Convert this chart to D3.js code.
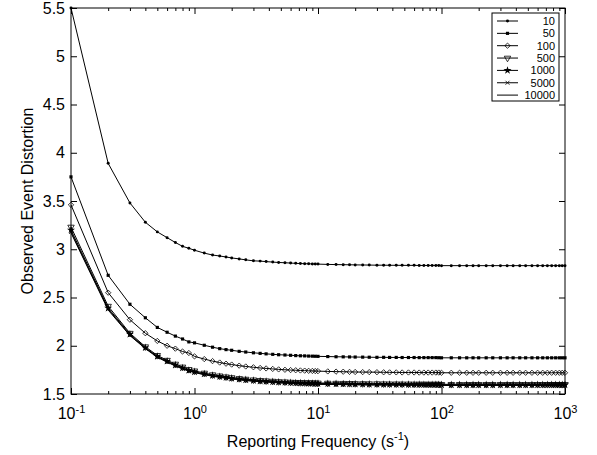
<!DOCTYPE html>
<html>
<head>
<meta charset="utf-8">
<script src="https://cdn.jsdelivr.net/npm/d3@7"></script>
<style>
    body { margin: 0; background: #fff; }
    svg { display: block; font-family: "Liberation Sans", Arial, sans-serif; }
</style>
</head>
<body>
<svg id="chart" width="597" height="455"></svg>
<script>
// sampled reporting frequencies (s^-1)
const freqs = [
    0.1, 0.2, 0.3, 0.4, 0.5, 0.6, 0.7, 0.8, 0.9,
    1, 1.2, 1.4, 1.6, 1.8, 2, 2.3, 2.6, 3, 3.4, 3.8, 4.3, 4.8, 5.4, 6, 6.6, 7.2, 7.8, 8.4, 9, 9.5,
    10, 12, 14, 16, 18, 20, 23, 26, 30, 34, 38, 43, 48, 54, 60, 66, 72, 78, 84, 90, 95,
    100, 120, 140, 160, 180, 200, 230, 260, 300, 340, 380, 430, 480, 540, 600, 660, 720, 780, 840, 900, 950,
    1000
];

const seriesNames = ["10", "50", "100", "500", "1000", "5000", "10000"];

const y10 = [
    5.50, 3.89, 3.48, 3.28, 3.18, 3.12, 3.07, 3.03, 3.01,
    2.99, 2.96, 2.94, 2.93, 2.92, 2.91, 2.90, 2.89, 2.88, 2.877, 2.872, 2.867, 2.863, 2.86, 2.857, 2.854, 2.852, 2.85, 2.849, 2.848, 2.847,
    2.846, 2.843, 2.841, 2.84, 2.839, 2.838, 2.837, 2.836, 2.835, 2.835, 2.834, 2.834, 2.833, 2.833, 2.833, 2.832, 2.832, 2.832, 2.832, 2.832, 2.832,
    2.83, 2.83, 2.83, 2.83, 2.83, 2.83, 2.83, 2.83, 2.83, 2.83, 2.83, 2.83, 2.83, 2.83, 2.83, 2.83, 2.83, 2.83, 2.83, 2.83, 2.83,
    2.83
];
const y50 = [
    3.75, 2.73, 2.43, 2.29, 2.19, 2.14, 2.10, 2.07, 2.04,
    2.03, 2.005, 1.985, 1.97, 1.96, 1.953, 1.942, 1.935, 1.927, 1.921, 1.916, 1.911, 1.907, 1.904, 1.901, 1.898, 1.896, 1.895, 1.893, 1.892, 1.891,
    1.89, 1.888, 1.886, 1.885, 1.884, 1.883, 1.882, 1.881, 1.88, 1.88, 1.879, 1.879, 1.878, 1.878, 1.878, 1.877, 1.877, 1.877, 1.877, 1.877, 1.876,
    1.875, 1.875, 1.875, 1.875, 1.875, 1.875, 1.875, 1.875, 1.875, 1.875, 1.875, 1.875, 1.875, 1.875, 1.875, 1.875, 1.875, 1.875, 1.875, 1.875, 1.875,
    1.875
];
const y100 = [
    3.46, 2.55, 2.27, 2.13, 2.05, 2.00, 1.97, 1.94, 1.925,
    1.89, 1.862, 1.841, 1.826, 1.814, 1.805, 1.794, 1.785, 1.777, 1.77, 1.765, 1.76, 1.755, 1.751, 1.748, 1.746, 1.744, 1.742, 1.74, 1.739, 1.738,
    1.737, 1.734, 1.732, 1.731, 1.729, 1.728, 1.727, 1.727, 1.726, 1.725, 1.724, 1.724, 1.723, 1.723, 1.723, 1.722, 1.722, 1.722, 1.722, 1.722, 1.722,
    1.72, 1.72, 1.72, 1.72, 1.72, 1.72, 1.72, 1.72, 1.72, 1.72, 1.72, 1.72, 1.72, 1.72, 1.72, 1.72, 1.72, 1.72, 1.72, 1.72, 1.72,
    1.72
];
const y500 = [
    3.23, 2.41, 2.13, 1.99, 1.90, 1.85, 1.81, 1.78, 1.755,
    1.74, 1.717, 1.70, 1.688, 1.678, 1.67, 1.661, 1.654, 1.647, 1.641, 1.637, 1.633, 1.629, 1.626, 1.623, 1.621, 1.619, 1.618, 1.617, 1.616, 1.615,
    1.614, 1.613, 1.612, 1.611, 1.61, 1.609, 1.608, 1.607, 1.607, 1.606, 1.605, 1.605, 1.604, 1.604, 1.603, 1.603, 1.603, 1.602, 1.602, 1.602, 1.602,
    1.60, 1.60, 1.60, 1.60, 1.60, 1.60, 1.60, 1.60, 1.60, 1.60, 1.60, 1.60, 1.60, 1.60, 1.60, 1.60, 1.60, 1.60, 1.60, 1.60, 1.60,
    1.60
];
const y1000 = [
    3.20, 2.39, 2.12, 1.98, 1.89, 1.84, 1.80, 1.77, 1.745,
    1.73, 1.708, 1.692, 1.68, 1.671, 1.663, 1.654, 1.647, 1.64, 1.635, 1.631, 1.627, 1.623, 1.62, 1.617, 1.615, 1.613, 1.612, 1.611, 1.61, 1.609,
    1.608, 1.607, 1.606, 1.605, 1.604, 1.603, 1.602, 1.601, 1.601, 1.6, 1.6, 1.599, 1.599, 1.598, 1.598, 1.598, 1.597, 1.597, 1.597, 1.597, 1.597,
    1.595, 1.595, 1.595, 1.595, 1.595, 1.595, 1.595, 1.595, 1.595, 1.595, 1.595, 1.595, 1.595, 1.595, 1.595, 1.595, 1.595, 1.595, 1.595, 1.595, 1.595,
    1.595
];
const y5000 = [
    3.18, 2.38, 2.11, 1.975, 1.885, 1.835, 1.795, 1.765, 1.74,
    1.725, 1.703, 1.687, 1.675, 1.666, 1.658, 1.649, 1.642, 1.635, 1.63, 1.626, 1.622, 1.618, 1.615, 1.612, 1.61, 1.608, 1.607, 1.606, 1.605, 1.604,
    1.603, 1.602, 1.601, 1.6, 1.599, 1.598, 1.597, 1.596, 1.596, 1.595, 1.595, 1.594, 1.594, 1.593, 1.593, 1.593, 1.592, 1.592, 1.592, 1.592, 1.592,
    1.59, 1.59, 1.59, 1.59, 1.59, 1.59, 1.59, 1.59, 1.59, 1.59, 1.59, 1.59, 1.59, 1.59, 1.59, 1.59, 1.59, 1.59, 1.59, 1.59, 1.59,
    1.59
];
const y10000 = [
    3.17, 2.37, 2.105, 1.97, 1.88, 1.83, 1.79, 1.76, 1.737,
    1.722, 1.70, 1.684, 1.672, 1.663, 1.655, 1.646, 1.639, 1.632, 1.627, 1.623, 1.619, 1.615, 1.612, 1.609, 1.607, 1.605, 1.604, 1.603, 1.602, 1.601,
    1.6, 1.599, 1.598, 1.597, 1.596, 1.595, 1.594, 1.593, 1.593, 1.592, 1.592, 1.591, 1.591, 1.59, 1.59, 1.59, 1.589, 1.589, 1.589, 1.589, 1.589,
    1.588, 1.588, 1.588, 1.588, 1.588, 1.588, 1.588, 1.588, 1.588, 1.588, 1.588, 1.588, 1.588, 1.588, 1.588, 1.588, 1.588, 1.588, 1.588, 1.588, 1.588,
    1.588
];

const seriesValues = [y10, y50, y100, y500, y1000, y5000, y10000];
const xTickValues = [0.1, 1, 10, 100, 1000];
const xTickExponents = ["-1", "0", "1", "2", "3"];
const yTickValues = [1.5, 2, 2.5, 3, 3.5, 4, 4.5, 5, 5.5];

// marker style per series (MATLAB-like: dot, square, diamond, v-triangle, star, x, none)
const markers = [
    {type: d3.symbolCircle,   size: 7,  fill: "#000", stroke: "none"},
    {type: d3.symbolSquare,   size: 10, fill: "#000", stroke: "none"},
    {type: d3.symbolDiamond2, size: 18, fill: "none", stroke: "#000", rotate: 0},
    {type: d3.symbolTriangle, size: 18, fill: "none", stroke: "#000", rotate: 180},
    {type: d3.symbolStar,     size: 20, fill: "#000", stroke: "none"},
    {type: d3.symbolTimes,    size: 12, fill: "none", stroke: "#000"},
    null
];

const plot = {left: 71, right: 565, top: 8, bottom: 394};

const svg = d3.select("#chart");

const x = d3.scaleLog().domain([0.1, 1000]).range([plot.left, plot.right]);
const y = d3.scaleLinear().domain([1.5, 5.5]).range([plot.bottom, plot.top]);

const minorTicks = x.ticks().filter(v => !xTickValues.includes(v));

// axes box
svg.append("rect")
    .attr("x", plot.left).attr("y", plot.top)
    .attr("width", plot.right - plot.left).attr("height", plot.bottom - plot.top)
    .attr("fill", "none").attr("stroke", "#000").attr("stroke-width", 1);

// inward ticks on all four sides
const addAxis = (axis, tx, ty) => {
    const g = svg.append("g").attr("transform", `translate(${tx},${ty})`).call(axis);
    g.select(".domain").remove();
    g.selectAll(".tick line").attr("stroke", "#000");
    return g;
};

const xAxis = addAxis(d3.axisBottom(x).tickValues(xTickValues).tickSize(-6).tickPadding(14).tickFormat(() => "10"), 0, plot.bottom);
addAxis(d3.axisBottom(x).tickValues(minorTicks).tickSize(-3).tickFormat(""), 0, plot.bottom);
addAxis(d3.axisTop(x).tickValues(xTickValues).tickSize(-6).tickFormat(""), 0, plot.top);
addAxis(d3.axisTop(x).tickValues(minorTicks).tickSize(-3).tickFormat(""), 0, plot.top);
const yAxis = addAxis(d3.axisLeft(y).tickValues(yTickValues).tickSize(-6).tickPadding(6).tickFormat(d => d), plot.left, 0);
addAxis(d3.axisRight(y).tickValues(yTickValues).tickSize(-6).tickFormat(""), plot.right, 0);

xAxis.selectAll(".tick text")
    .attr("font-size", 16).attr("fill", "#000")
    .attr("dy", "0.71em")
    .each(function(d, i) {
        d3.select(this).append("tspan")
            .attr("font-size", 11)
            .attr("dy", "-0.55em")
            .text(xTickExponents[i]);
    });

yAxis.selectAll(".tick text")
    .attr("font-size", 16).attr("fill", "#000");

// axis titles
const xTitle = svg.append("text")
    .attr("x", (plot.left + plot.right) / 2).attr("y", 447)
    .attr("text-anchor", "middle").attr("font-size", 16);
xTitle.append("tspan").text("Reporting Frequency (s");
xTitle.append("tspan").attr("font-size", 11).attr("dy", -7).text("-1");
xTitle.append("tspan").attr("dy", 7).text(")");

svg.append("text")
    .attr("transform", `translate(33,${(plot.top + plot.bottom) / 2}) rotate(-90)`)
    .attr("text-anchor", "middle").attr("font-size", 16)
    .text("Observed Event Distortion");

// series
const line = d3.line().x(d => x(d[0])).y(d => y(d[1]));

seriesValues.forEach((vals, i) => {
    const pts = freqs.map((f, j) => [f, vals[j]]);
    const g = svg.append("g").attr("class", "series s" + seriesNames[i]);
    g.append("path")
        .attr("d", line(pts))
        .attr("fill", "none").attr("stroke", "#000").attr("stroke-width", 1);
    const m = markers[i];
    if (m) {
        g.selectAll("path.mk")
            .data(pts)
            .join("path")
            .attr("class", "mk")
            .attr("d", d3.symbol(m.type, m.size))
            .attr("transform", d => `translate(${x(d[0])},${y(d[1])}) rotate(${m.rotate || 0})`)
            .attr("fill", m.fill).attr("stroke", m.stroke).attr("stroke-width", 0.8);
    }
});

// legend
const legend = svg.append("g");
legend.append("rect")
    .attr("x", 492).attr("y", 13).attr("width", 67).attr("height", 88)
    .attr("fill", "#fff").attr("stroke", "#000").attr("stroke-width", 1);

seriesNames.forEach((name, i) => {
    const ly = 21 + i * 12.35;
    legend.append("line")
        .attr("x1", 497).attr("x2", 518).attr("y1", ly).attr("y2", ly)
        .attr("stroke", "#000").attr("stroke-width", 1);
    const m = markers[i];
    if (m) {
        legend.append("path")
            .attr("d", d3.symbol(m.type, m.size))
            .attr("transform", `translate(507.5,${ly}) rotate(${m.rotate || 0})`)
            .attr("fill", m.fill).attr("stroke", m.stroke).attr("stroke-width", 0.8);
    }
    legend.append("text")
        .attr("x", 555).attr("y", ly).attr("dy", "0.36em")
        .attr("text-anchor", "end").attr("font-size", 11)
        .text(name);
});
</script>
</body>
</html>
